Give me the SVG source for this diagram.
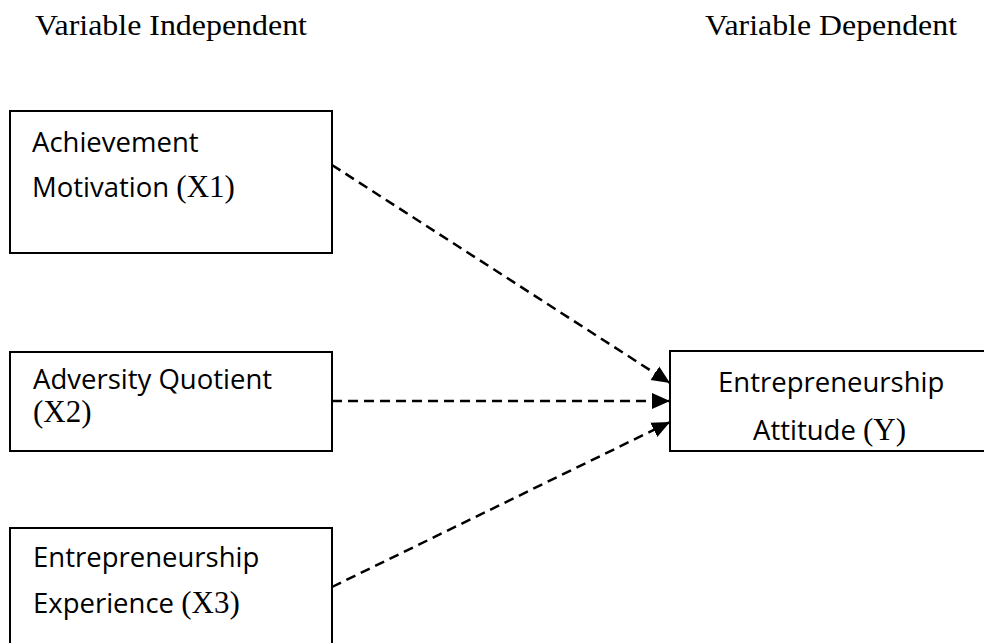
<svg xmlns="http://www.w3.org/2000/svg" width="984" height="643" viewBox="0 0 984 643">
<style>
.box{fill:#fff;stroke:#000;stroke-width:2}
.sans{font-family:"Open Sans","Noto Sans",sans-serif;font-size:27.5px;fill:#000}
.serif{font-family:"Liberation Serif","Times New Roman",serif;font-size:31px;fill:#000}
.head{font-family:"Liberation Serif","Times New Roman",serif;font-size:29px;fill:#000}
.conn{stroke:#000;stroke-width:2.5;stroke-dasharray:10 6;fill:none}
</style>
<defs>
<marker id="arr" markerUnits="userSpaceOnUse" markerWidth="20" markerHeight="18" refX="18" refY="8" orient="auto" viewBox="0 0 20 16">
<path d="M0,0 L18,8 L0,16 Z" fill="#000"/>
</marker>
</defs>
<rect width="984" height="643" fill="#fff"/>
<text class="head" x="35" y="35" textLength="272" lengthAdjust="spacingAndGlyphs">Variable Independent</text>
<text class="head" x="705" y="35" textLength="252" lengthAdjust="spacingAndGlyphs">Variable Dependent</text>
<g id="x1">
<rect class="box" x="10" y="111" width="322" height="142"/>
<text class="sans" x="32" y="152">Achievement</text>
<text class="sans" x="32" y="197">Motivation <tspan class="serif">(X1)</tspan></text>
</g>
<g id="x2">
<rect class="box" x="10" y="352" width="322" height="99"/>
<text class="sans" x="33" y="389">Adversity Quotient</text>
<text class="serif" x="33" y="422">(X2)</text>
</g>
<g id="x3">
<rect class="box" x="10" y="528" width="322" height="140"/>
<text class="sans" x="33" y="567">Entrepreneurship</text>
<text class="sans" x="33" y="613">Experience <tspan class="serif">(X3)</tspan></text>
</g>
<g id="y">
<rect class="box" x="670" y="351" width="340" height="100"/>
<text class="sans" x="718" y="392">Entrepreneurship</text>
<text class="sans" x="753" y="440">Attitude <tspan class="serif">(Y)</tspan></text>
</g>
<g id="connectors">
<line class="conn" x1="332" y1="165" x2="670" y2="383" marker-end="url(#arr)"/>
<line class="conn" x1="332" y1="401" x2="670" y2="401" marker-end="url(#arr)"/>
<line class="conn" x1="332" y1="587" x2="670" y2="422" marker-end="url(#arr)"/>
</g>
</svg>
